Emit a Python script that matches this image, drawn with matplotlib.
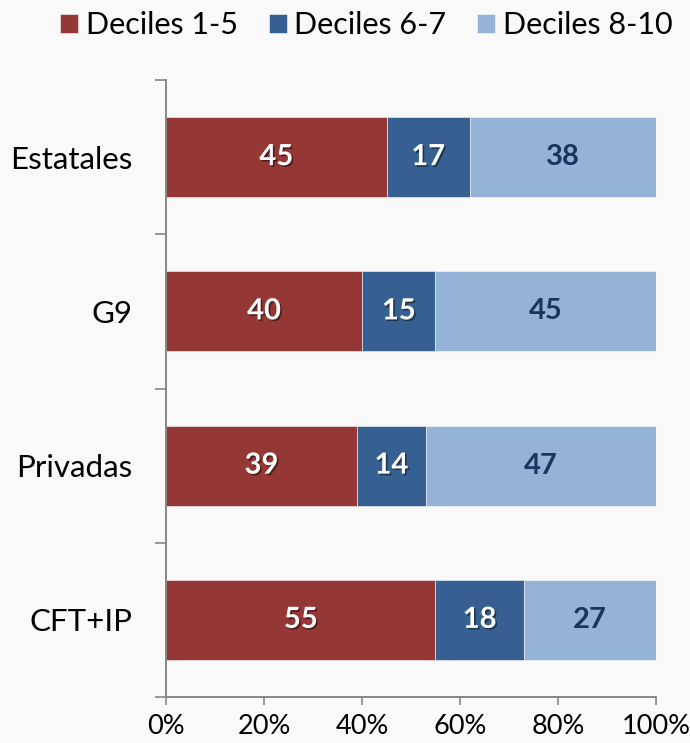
import matplotlib.pyplot as plt
import matplotlib.patheffects as pe
from matplotlib.ticker import FixedLocator, FuncFormatter

plt.rcParams['font.family'] = ['Lato', 'DejaVu Sans']

categorias = ["Estatales", "G9", "Privadas", "CFT+IP"]
deciles_1_5 = [45, 40, 39, 55]
deciles_6_7 = [17, 15, 14, 18]
deciles_8_10 = [38, 45, 47, 27]
series = ["Deciles 1-5", "Deciles 6-7", "Deciles 8-10"]

colores = ["#953735", "#366092", "#95B3D7"]
color_texto = ["white", "white", "#17375E"]
gris = "#868686"

fig = plt.figure(figsize=(6.9, 7.43), dpi=100, facecolor="#f9f9f9")
ax = fig.add_axes([0.2406, 0.0619, 0.7101, 0.8304], facecolor="#f9f9f9")

pos = list(range(len(categorias)))
izq = [0] * len(categorias)
sombra = [pe.withSimplePatchShadow(offset=(1.2, -1.2), shadow_rgbFace="black", alpha=0.45)]
for i, valores in enumerate([deciles_1_5, deciles_6_7, deciles_8_10]):
    ax.barh(pos, valores, left=izq, height=0.52, color=colores[i], label=series[i],
            edgecolor="#f9f9f9", linewidth=0.4)
    for p, l, v in zip(pos, izq, valores):
        t = ax.text(l + v / 2, p, str(v), ha="center", va="center", fontsize=21,
                    fontweight="bold", color=color_texto[i])
        if i < 2:
            t.set_path_effects(sombra)
    izq = [a + b for a, b in zip(izq, valores)]

ax.set_xlim(0, 100)
ax.set_ylim(3.5, -0.5)
ax.xaxis.set_major_locator(FixedLocator([0, 20, 40, 60, 80, 100]))
ax.xaxis.set_major_formatter(FuncFormatter(lambda x, _: f"{int(x)}%"))
ax.yaxis.set_major_locator(FixedLocator([-0.5, 0.5, 1.5, 2.5, 3.5]))
ax.yaxis.set_major_formatter(FuncFormatter(lambda y, _: ""))
ax.yaxis.set_minor_locator(FixedLocator(pos))
ax.set_yticklabels(categorias, minor=True)
ax.tick_params(axis="y", which="minor", length=0, pad=24, labelsize=22.5)
ax.tick_params(axis="y", which="major", length=8, width=1.2, color=gris)
ax.tick_params(axis="x", length=6, width=1.2, color=gris, labelsize=19.5, pad=6)

for s in ["top", "right"]:
    ax.spines[s].set_visible(False)
for s in ["left", "bottom"]:
    ax.spines[s].set_color(gris)
    ax.spines[s].set_linewidth(1.4)
ax.spines["bottom"].set_bounds(0, 100)

fig.legend(loc="center right", bbox_to_anchor=(0.975, 0.966), ncol=3, frameon=False,
           fontsize=22, handlelength=0.6, handleheight=0.6, handletextpad=0.25,
           columnspacing=1.0, borderpad=0, borderaxespad=0)

fig.savefig("out.png", dpi=100, facecolor=fig.get_facecolor())
